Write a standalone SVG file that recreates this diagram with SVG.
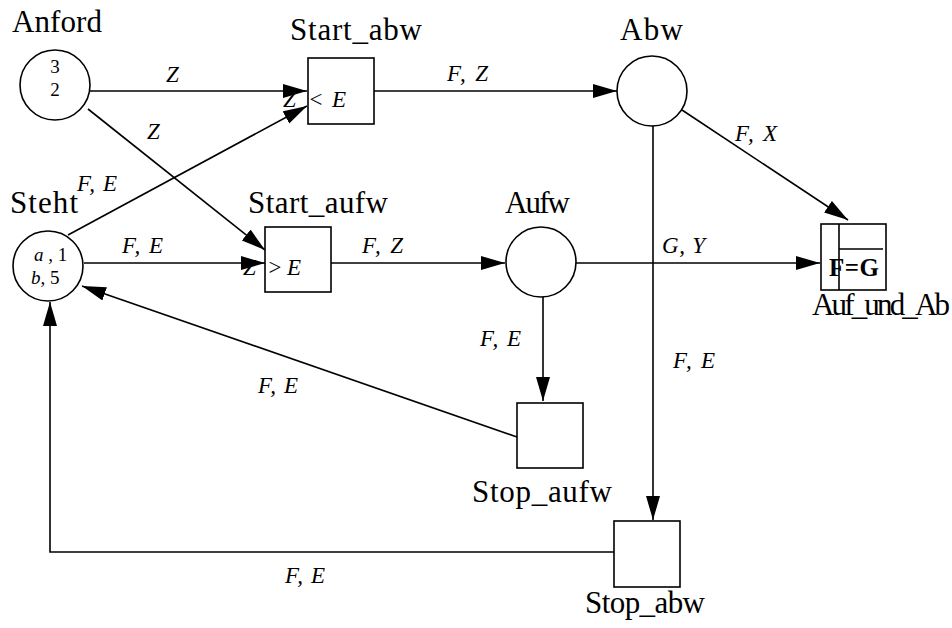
<svg xmlns="http://www.w3.org/2000/svg" width="952" height="628" viewBox="0 0 952 628">
<style>
.n{font-family:"Liberation Serif","Times New Roman",serif;font-size:31px;fill:#000}
.l{font-family:"Liberation Serif","Times New Roman",serif;font-size:23px;font-style:italic;fill:#000}
.t{font-family:"Liberation Serif","Times New Roman",serif;font-size:19px;fill:#000}
.s{fill:#fff;stroke:#000;stroke-width:1.6}
.c{fill:none;stroke:#000;stroke-width:1.6}
</style>
<defs>
<marker id="a" markerUnits="userSpaceOnUse" markerWidth="26" markerHeight="16" refX="24" refY="7" orient="auto">
<path d="M0,0 L24,7 L0,14 z" fill="#000"/>
</marker>
</defs>
<rect width="952" height="628" fill="#fff"/>
<g id="connectors">
<path class="c" d="M90,91 L307,91" marker-end="url(#a)"/>
<path class="c" d="M88,109 L265,250" marker-end="url(#a)"/>
<path class="c" d="M68,235 L307,106" marker-end="url(#a)"/>
<path class="c" d="M84,263 L265,263" marker-end="url(#a)"/>
<path class="c" d="M374,91 L617,91" marker-end="url(#a)"/>
<path class="c" d="M331,263 L505,263" marker-end="url(#a)"/>
<path class="c" d="M682,110 L848,220" marker-end="url(#a)"/>
<path class="c" d="M575,263 L820,263" marker-end="url(#a)"/>
<path class="c" d="M543,296 L543,401" marker-end="url(#a)"/>
<path class="c" d="M653,126 L653,520" marker-end="url(#a)"/>
<path class="c" d="M517,437 L82,286" marker-end="url(#a)"/>
<path class="c" d="M614,552 L50,552 L50,302" marker-end="url(#a)"/>
<text class="l" x="166" y="82">Z</text>
<text class="l" x="147" y="139">Z</text>
<text class="l" x="447" y="81" textLength="41">F, Z</text>
<text class="l" x="77" y="191" textLength="40">F, E</text>
<text class="l" x="122" y="253" textLength="41">F, E</text>
<text class="l" x="362" y="253" textLength="41">F, Z</text>
<text class="l" x="735" y="141" textLength="42">F, X</text>
<text class="l" x="662" y="253" textLength="43">G, Y</text>
<text class="l" x="480" y="346" textLength="41">F, E</text>
<text class="l" x="673" y="368" textLength="42">F, E</text>
<text class="l" x="258" y="393" textLength="40">F, E</text>
<text class="l" x="285" y="583" textLength="40">F, E</text>
</g>
<g id="Anford">
<circle class="s" cx="55" cy="85" r="35"/>
<text class="t" x="55" y="73" text-anchor="middle">3</text>
<text class="t" x="55" y="96" text-anchor="middle">2</text>
<text class="n" x="12" y="32" textLength="90">Anford</text>
</g>
<g id="Start_abw">
<rect class="s" x="308" y="58" width="66" height="66"/>
<text class="l" x="283" y="107">Z</text>
<text class="l" x="308" y="107" font-style="normal">&lt;</text>
<text class="l" x="332" y="107">E</text>
<text class="n" x="290" y="40" textLength="132">Start_abw</text>
</g>
<g id="Abw">
<circle class="s" cx="652" cy="91" r="35"/>
<text class="n" x="620" y="40" textLength="63">Abw</text>
</g>
<g id="Steht">
<circle class="s" cx="48" cy="266" r="35"/>
<text class="t" x="34" y="261"><tspan font-style="italic">a</tspan> , 1</text>
<text class="t" x="31" y="284"><tspan font-style="italic">b</tspan>, 5</text>
<text class="n" x="10" y="213" textLength="68">Steht</text>
</g>
<g id="Start_aufw">
<rect class="s" x="265" y="227" width="66" height="65"/>
<text class="l" x="243" y="275">Z</text>
<text class="l" x="267" y="275" font-style="normal">&gt;</text>
<text class="l" x="287" y="275">E</text>
<text class="n" x="248" y="213" textLength="140">Start_aufw</text>
</g>
<g id="Aufw">
<circle class="s" cx="541" cy="262" r="35"/>
<text class="n" x="505" y="213" textLength="65">Aufw</text>
</g>
<g id="Auf_und_Ab">
<rect class="s" x="821" y="224" width="65" height="66"/>
<path class="c" d="M839,224 L839,290 M839,249 L883,249" stroke-width="1.2"/>
<text x="829" y="276" font-family="Liberation Serif, serif" font-weight="bold" font-size="25" textLength="50">F=G</text>
<text class="n" x="812" y="315" textLength="138">Auf_und_Ab</text>
</g>
<g id="Stop_aufw">
<rect class="s" x="517" y="403" width="66" height="65"/>
<text class="n" x="472" y="502" textLength="140">Stop_aufw</text>
</g>
<g id="Stop_abw">
<rect class="s" x="614" y="521" width="66" height="66"/>
<text class="n" x="585" y="613" textLength="120">Stop_abw</text>
</g>
</svg>
